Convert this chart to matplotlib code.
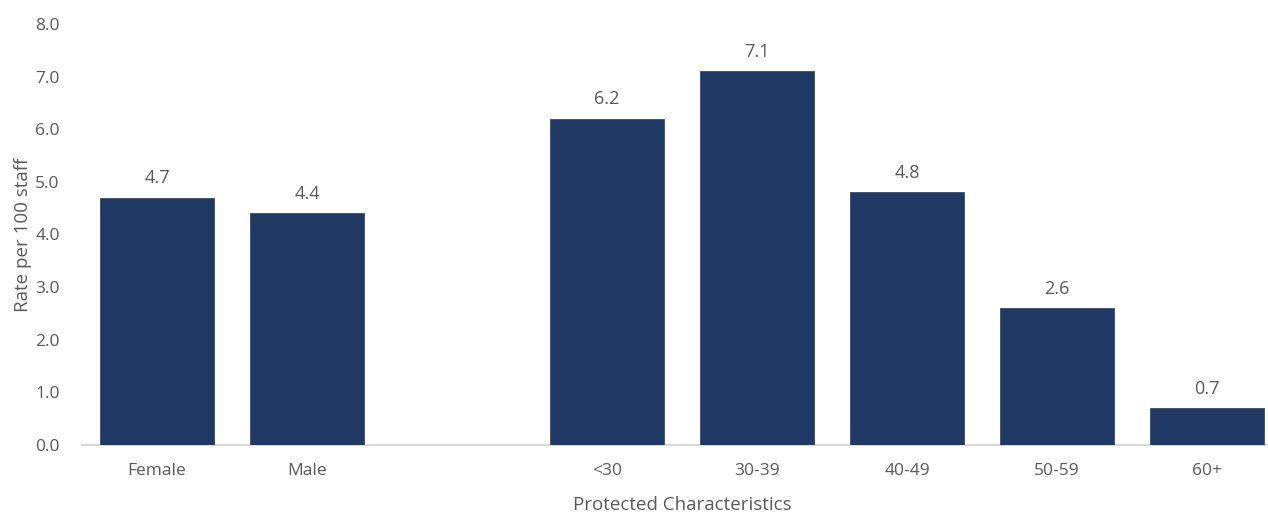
import matplotlib
matplotlib.use("Agg")
import matplotlib.pyplot as plt

categories = ["Female", "Male", "", "<30", "30-39", "40-49", "50-59", "60+"]
values = [4.7, 4.4, None, 6.2, 7.1, 4.8, 2.6, 0.7]
yticks = [0.0, 1.0, 2.0, 3.0, 4.0, 5.0, 6.0, 7.0, 8.0]

plt.rcParams['font.family'] = ['Open Sans', 'DejaVu Sans']
txt = '#595959'
bar_color = '#203864'

fig = plt.figure(figsize=(12.68, 5.12), dpi=100)
ax = fig.add_axes([82/1268, 1-445/512, 1200/1268, (445-24)/512])

xs = [i for i, v in enumerate(values) if v is not None]
vs = [v for v in values if v is not None]
bars = ax.bar(xs, vs, width=0.76, color=bar_color, edgecolor='#3a4a6a', linewidth=0.6, zorder=3)
for x, v in zip(xs, vs):
    ax.text(x, v + 0.2, f"{v:.1f}", ha='center', va='bottom', fontsize=13, color=txt)

ax.set_xlim(-0.5, len(categories) - 0.5)
ax.set_ylim(0, 8)
ax.set_yticks(yticks)
ax.set_yticklabels([f"{t:.1f}" for t in yticks])
ax.set_xticks(range(len(categories)))
ax.set_xticklabels(categories)
ax.tick_params(axis='both', length=0, labelsize=12.5, colors=txt)
ax.tick_params(axis='x', pad=13)
ax.tick_params(axis='y', pad=16)
for s in ['top', 'right', 'left']:
    ax.spines[s].set_visible(False)
ax.spines['bottom'].set_color('#d0d0d0')
ax.spines['bottom'].set_linewidth(1.2)

ax.set_xlabel("Protected Characteristics", fontsize=13.5, color=txt, labelpad=12)
ax.set_ylabel("Rate per 100 staff", fontsize=13.5, color=txt, labelpad=2)

fig.savefig("out.png", dpi=100)
